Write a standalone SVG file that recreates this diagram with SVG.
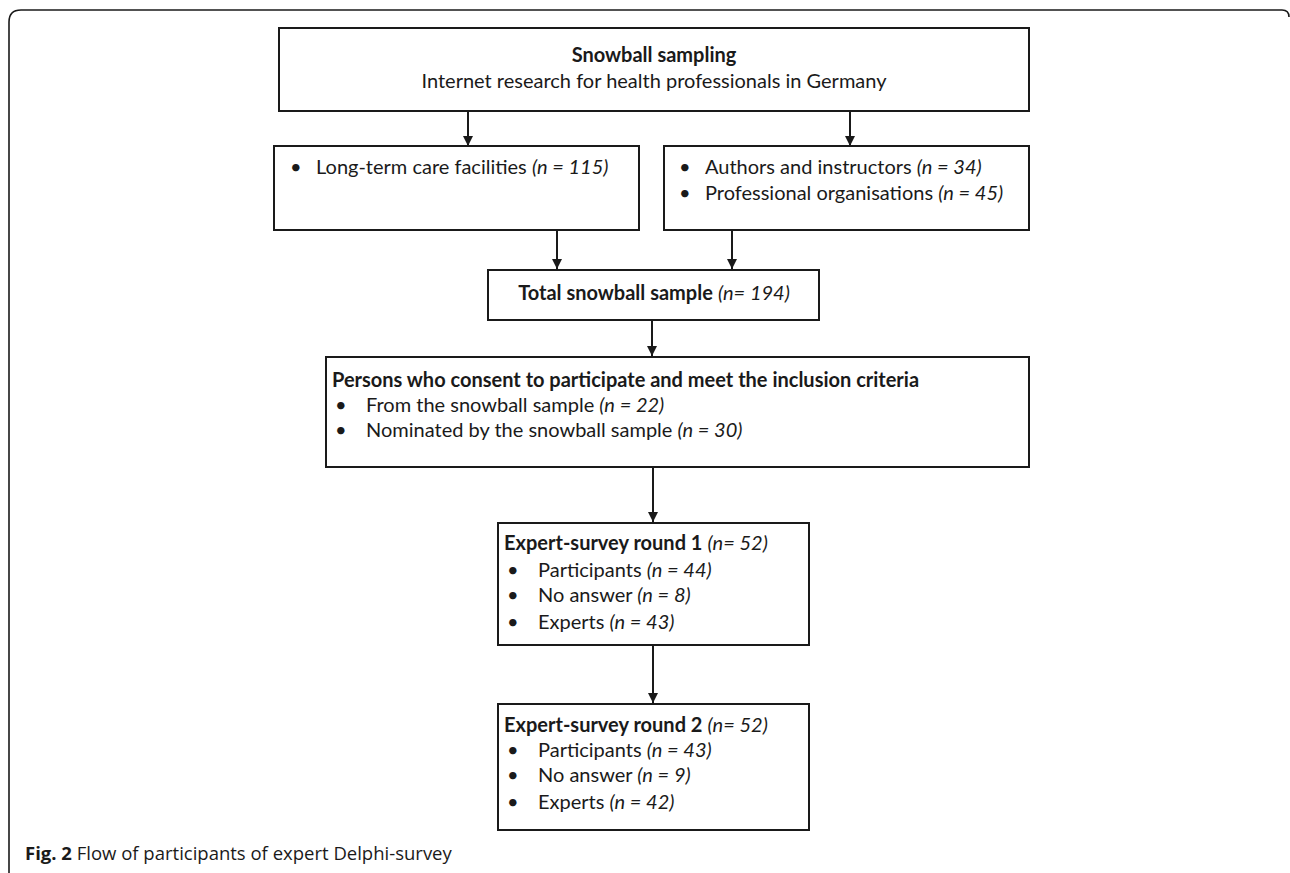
<svg xmlns="http://www.w3.org/2000/svg" width="1290" height="873" viewBox="0 0 1290 873">
<style>
.box{fill:#fff;stroke:#1a1a1a;stroke-width:2}
.t{font-family:Lato,"Open Sans",sans-serif;font-size:20px;fill:#1a1a1a}
.b{font-weight:bold}
.i{font-style:italic}
.conn{stroke:#1a1a1a;stroke-width:2;fill:none}
.cap{font-family:"Open Sans","Noto Sans",sans-serif;font-size:18.5px;fill:#1a1a1a}
</style>
<defs>
<marker id="ah" markerWidth="12" markerHeight="12" refX="10" refY="5" orient="auto" markerUnits="userSpaceOnUse">
<path d="M0,0 L10,5 L0,10 Z" fill="#1a1a1a"/>
</marker>
</defs>
<rect width="1290" height="873" fill="#fff"/>
<path d="M9,873 L9,22 Q9,10 21,10 L1282,10 Q1289,10 1289,17" fill="none" stroke="#1a1a1a" stroke-width="1.6"/>

<g id="connectors">
<line class="conn" x1="468" y1="111" x2="468" y2="146" marker-end="url(#ah)"/>
<line class="conn" x1="850" y1="111" x2="850" y2="146" marker-end="url(#ah)"/>
<line class="conn" x1="557" y1="230" x2="557" y2="269" marker-end="url(#ah)"/>
<line class="conn" x1="732" y1="230" x2="732" y2="269" marker-end="url(#ah)"/>
<line class="conn" x1="652" y1="320" x2="652" y2="356" marker-end="url(#ah)"/>
<line class="conn" x1="653" y1="467" x2="653" y2="522" marker-end="url(#ah)"/>
<line class="conn" x1="653" y1="645" x2="653" y2="703" marker-end="url(#ah)"/>
</g>

<g id="node-snowball">
<rect class="box" x="279" y="28" width="750" height="83"/>
<text class="t b" x="654" y="62" text-anchor="middle">Snowball sampling</text>
<text class="t" x="654" y="88" text-anchor="middle">Internet research for health professionals in Germany</text>
</g>

<g id="node-ltc">
<rect class="box" x="274" y="146" width="365" height="84"/>
<text class="t" x="290" y="174">•</text>
<text class="t" x="316" y="174">Long-term care facilities <tspan class="i">(n = 115)</tspan></text>
</g>

<g id="node-authors">
<rect class="box" x="664" y="146" width="365" height="84"/>
<text class="t" x="679" y="174">•</text>
<text class="t" x="705" y="174">Authors and instructors <tspan class="i">(n = 34)</tspan></text>
<text class="t" x="679" y="200">•</text>
<text class="t" x="705" y="200">Professional organisations <tspan class="i">(n = 45)</tspan></text>
</g>

<g id="node-total">
<rect class="box" x="488" y="270" width="331" height="50"/>
<text class="t" x="654" y="300" text-anchor="middle"><tspan class="b">Total snowball sample</tspan> <tspan class="i">(n= 194)</tspan></text>
</g>

<g id="node-persons">
<rect class="box" x="326" y="357" width="703" height="110"/>
<text class="t b" x="332" y="387">Persons who consent to participate and meet the inclusion criteria</text>
<text class="t" x="335" y="412">•</text>
<text class="t" x="366" y="412">From the snowball sample <tspan class="i">(n = 22)</tspan></text>
<text class="t" x="335" y="437">•</text>
<text class="t" x="366" y="437">Nominated by the snowball sample <tspan class="i">(n = 30)</tspan></text>
</g>

<g id="node-round1">
<rect class="box" x="498" y="523" width="311" height="122"/>
<text class="t" x="504" y="550"><tspan class="b">Expert-survey round 1</tspan> <tspan class="i">(n= 52)</tspan></text>
<text class="t" x="507" y="577">•</text>
<text class="t" x="538" y="577">Participants <tspan class="i">(n = 44)</tspan></text>
<text class="t" x="507" y="602">•</text>
<text class="t" x="538" y="602">No answer <tspan class="i">(n = 8)</tspan></text>
<text class="t" x="507" y="629">•</text>
<text class="t" x="538" y="629">Experts <tspan class="i">(n = 43)</tspan></text>
</g>

<g id="node-round2">
<rect class="box" x="498" y="704" width="311" height="126"/>
<text class="t" x="504" y="732"><tspan class="b">Expert-survey round 2</tspan> <tspan class="i">(n= 52)</tspan></text>
<text class="t" x="507" y="757">•</text>
<text class="t" x="538" y="757">Participants <tspan class="i">(n = 43)</tspan></text>
<text class="t" x="507" y="782">•</text>
<text class="t" x="538" y="782">No answer <tspan class="i">(n = 9)</tspan></text>
<text class="t" x="507" y="809">•</text>
<text class="t" x="538" y="809">Experts <tspan class="i">(n = 42)</tspan></text>
</g>

<text class="cap" x="25" y="860"><tspan font-weight="bold">Fig. 2</tspan> Flow of participants of expert Delphi-survey</text>
</svg>
